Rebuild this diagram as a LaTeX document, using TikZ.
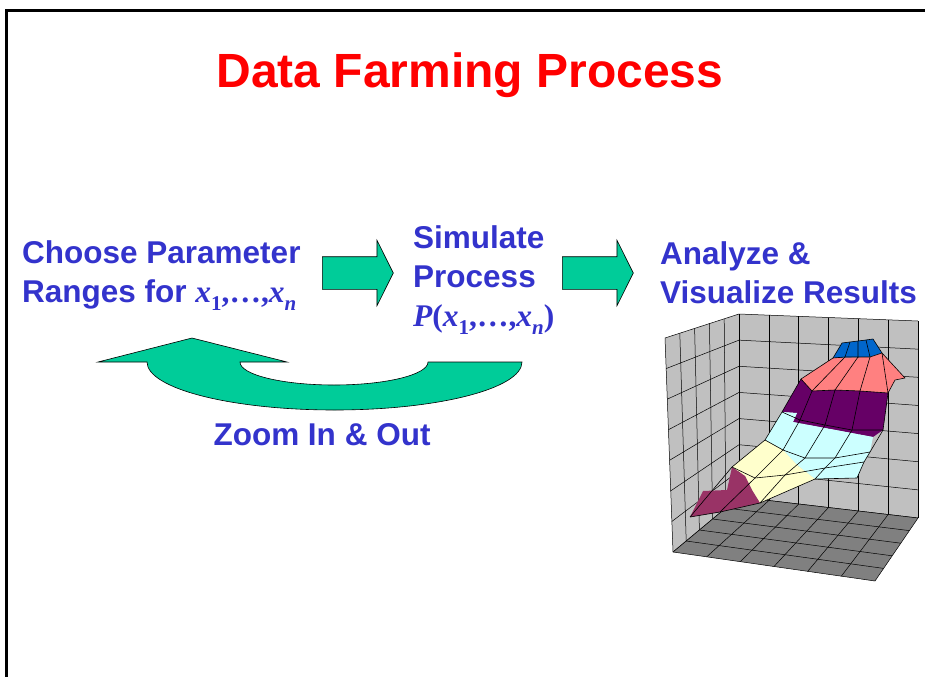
\documentclass[tikz,border=0pt]{standalone}
\usepackage{fontspec}
\setmainfont{Liberation Sans}
\newfontfamily\tms{Liberation Serif}
\usetikzlibrary{calc,shapes.arrows}
\definecolor{titlered}{RGB}{255,0,0}
\definecolor{stepblue}{RGB}{51,51,204}
\definecolor{arrowgreen}{RGB}{0,204,153}
\definecolor{wallgray}{RGB}{192,192,192}
\definecolor{floorgray}{RGB}{128,128,128}
\definecolor{capblue}{RGB}{0,102,204}
\definecolor{salmon}{RGB}{255,128,128}
\definecolor{plum}{RGB}{102,0,102}
\definecolor{icecyan}{RGB}{204,255,255}
\definecolor{paleyellow}{RGB}{255,255,204}
\definecolor{wine}{RGB}{153,51,102}
\def\xsub#1{{\tms\bfseries\itshape x}\raisebox{-0.28em}{\tms\bfseries\fontsize{21}{21}\selectfont #1}}
\def\xdots{{\tms\bfseries ,\ldots,}}
\def\wallgrid[#1](#2)(#3)(#4)(#5)(#6:#7){%
	\fill[#1] (#2) -- (#3) -- (#5) -- (#4) -- cycle;
	\foreach \k in {0,...,#6} \draw[line width=0.5pt] ($(#2)!\k/#6!(#3)$) -- ($(#4)!\k/#6!(#5)$);
	\foreach \k in {0,...,#7} \draw[line width=0.5pt] ($(#2)!\k/#7!(#4)$) -- ($(#3)!\k/#7!(#5)$);
}
\tikzset{
	steplabel/.style={text=stepblue, font=\fontsize{31.5}{39}\selectfont\bfseries, align=left, inner sep=0pt, anchor=north west},
	blockarrow/.style={single arrow, draw=black, fill=arrowgreen, line width=0.6pt, minimum height=71pt, inner xsep=0pt, inner ysep=16pt, single arrow head extend=16.5pt, single arrow tip angle=127, anchor=tail},
	meshline/.style={line width=0.6pt, line join=round}
}

\begin{document}
\begin{tikzpicture}[x=1pt,y=-1pt]
	\useasboundingbox (0,0) rectangle (925,677);
	%%%%% FRAME %%%%%
	\draw[line width=3pt] (925,11) -- (6,11) -- (6,677);

	%%%%% TEXT %%%%%
	\node[text=titlered, font=\fontsize{48}{48}\selectfont\bfseries, anchor=base] (title) at (470,87) {Data Farming Process};
	\node[steplabel] (choose) at (22,240) {Choose Parameter\\Ranges for \xsub{1}\xdots\xsub{\itshape n}};
	\node[steplabel] (simulate) at (413,225) {Simulate\\Process\\{\tms\bfseries\itshape P}{\tms\bfseries (}\xsub{1}\xdots\xsub{\itshape n}{\tms\bfseries )}};
	\node[steplabel] (analyze) at (660,241) {Analyze \&\\Visualize Results};
	\node[steplabel, anchor=base, align=center] (zoom) at (322,445) {Zoom In \& Out};

	%%%%% ARROWS %%%%%
	\node[blockarrow] (arrA) at (322,273) {};
	\node[blockarrow] (arrB) at (562,273) {};
	\draw[fill=arrowgreen, line width=0.6pt] (98,362) -- (192,338) -- (287,362) -- (240,362)
		.. controls (240,374.7) and (282.1,385) .. (334,385)
		.. controls (385.9,385) and (428,374.7) .. (428,362)
		-- (522,362)
		.. controls (522,388.5) and (438.1,410) .. (334.5,410)
		.. controls (230.9,410) and (147,388.5) .. (147,362) -- cycle;

	%%%%% CHART %%%%%
	\wallgrid[wallgray](665,338)(739,314)(673,552)(739,497)(5:7)
	\wallgrid[wallgray](739,314)(918,321)(739,497)(918,518)(6:7)
	\wallgrid[floorgray](739,497)(918,518)(673,552)(875,581)(6:5)

	\fill[capblue] (833,358) -- (842,343) -- (873,339) -- (882,353) -- (870,357) -- cycle;
	\fill[salmon] (833,358) -- (870,357) -- (882,353) -- (905,378) -- (895,380) -- (888,393) -- (860,391) -- (835,390) -- (812,391) -- (801,379) -- cycle;
	\fill[plum] (801,379) -- (812,391) -- (835,390) -- (860,391) -- (888,393) -- (883,430) -- (873,437) -- (793,422) -- (797,413) -- (782,412) -- cycle;
	\fill[icecyan] (782,412) -- (797,413) -- (793,422) -- (873,437) -- (870,452) -- (864,462) -- (857,478) -- (815,479) -- (797,465) -- (783,450) -- (765,440) -- cycle;
	\fill[paleyellow] (765,440) -- (783,450) -- (797,465) -- (815,479) -- (760,503) -- (752,490) -- (745,476) -- (732,467) -- cycle;
	\fill[wine] (732,467) -- (745,476) -- (752,490) -- (760,503) -- (720,512) -- (690,517) -- (703,491) -- (727,490) -- cycle;

	\foreach \r [count=\j from 0] in {
		{842/343,850/342,858/341,866/340,873/339},
		{833/358,845/357,858/357,870/357,882/353},
		{801/379,812/391,835/390,860/391,888/393},
		{782/412,800/420,825/425,852/430,883/430},
		{765/440,783/450,805/458,835/458,870/452},
		{732/467,755/478,785/475,825/468,864/462},
		{690/517,720/512,760/503,815/479,857/478}}
		\foreach \x/\y [count=\i from 0] in \r
			\coordinate (s\i\j) at (\x,\y);
	\foreach \j in {0,...,6}
		\draw[meshline] (s0\j) -- (s1\j) -- (s2\j) -- (s3\j) -- (s4\j);
	\foreach \i in {0,...,4}
		\draw[meshline] (s\i0) -- (s\i1) -- (s\i2) -- (s\i3) -- (s\i4) -- (s\i5) -- (s\i6);
	\draw[meshline] (882,353) -- (905,378) -- (895,380) -- (888,393);
\end{tikzpicture}
\end{document}
